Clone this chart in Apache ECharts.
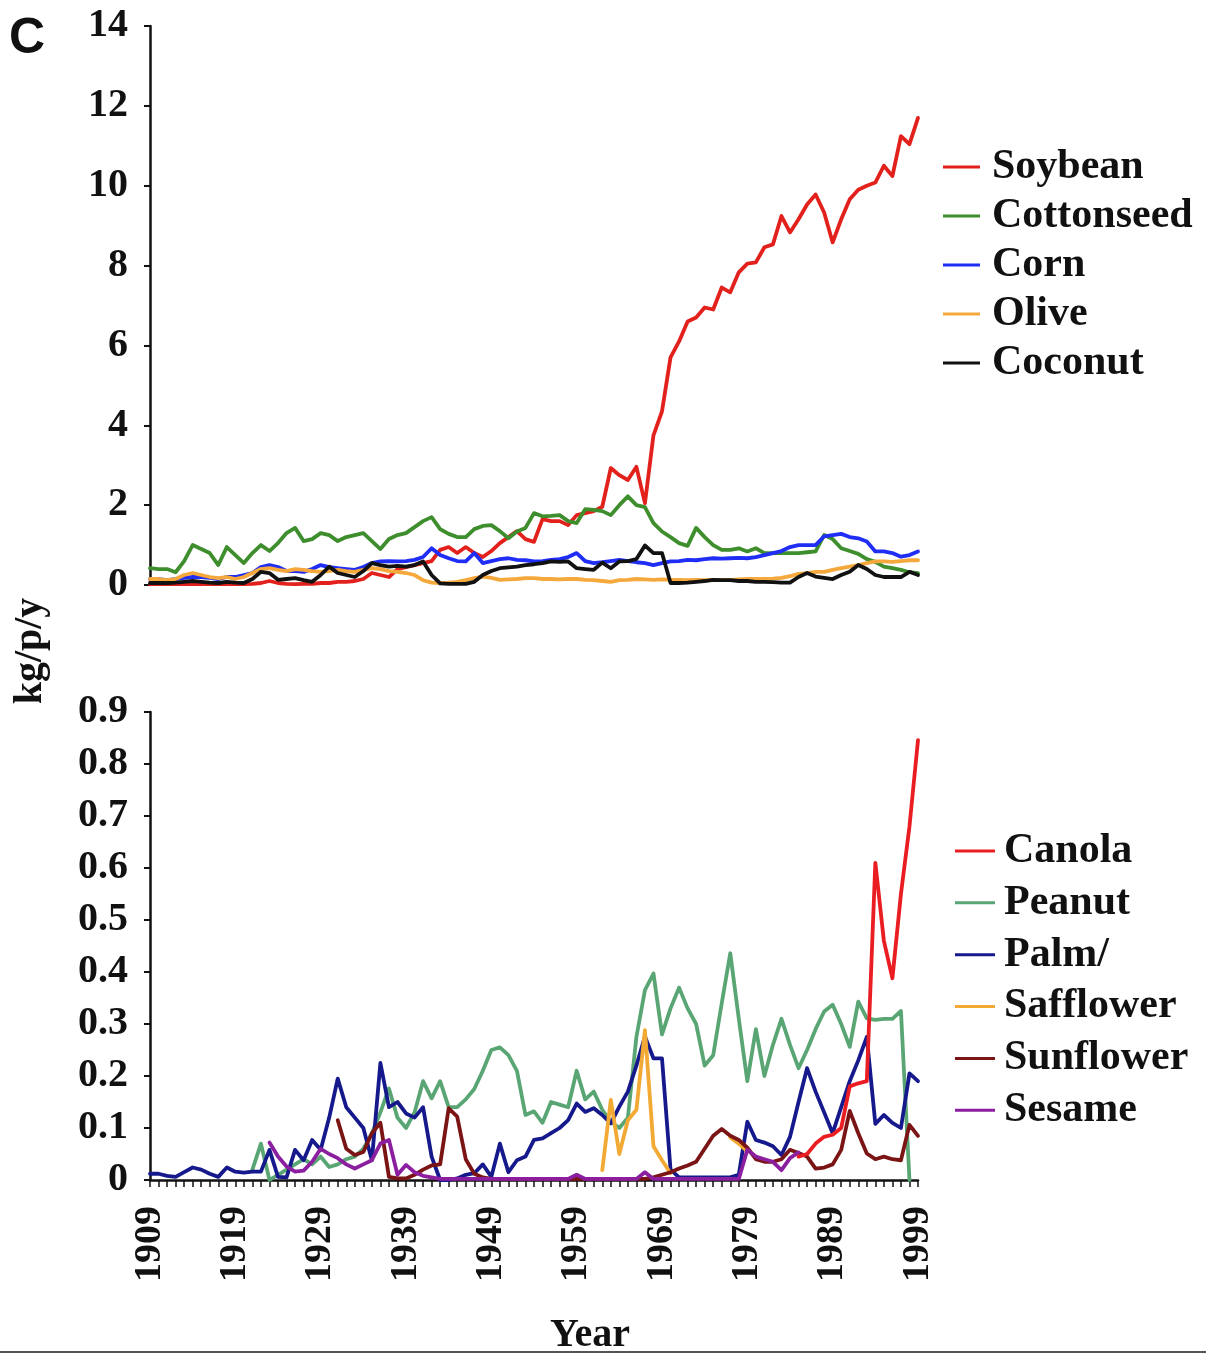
<!DOCTYPE html>
<html>
<head>
<meta charset="utf-8">
<title>Oil consumption per person, 1909-1999</title>
<script src="https://cdn.jsdelivr.net/npm/echarts@6/dist/echarts.min.js"></script>
<style>
  html, body { margin: 0; padding: 0; background: #fff; }
  #chart { width: 1206px; height: 1356px; }
</style>
</head>
<body>
<div id="chart"></div>
<script>
// Years on the shared x axis (1909-1999, one point per year)
const firstYear = 1909;
const lastYear = 1999;
const years = [];
for (let y = firstYear; y <= lastYear; y++) years.push(String(y));

// Upper panel tick labels (kg/p/y)
const topTicks = [0, 2, 4, 6, 8, 10, 12, 14];
// Lower panel tick labels (kg/p/y)
const bottomTicks = [0, 0.1, 0.2, 0.3, 0.4, 0.5, 0.6, 0.7, 0.8, 0.9];

// ---- Upper panel: major oils, 1909-1999 ----
const soybean = [
  0.02,0.02,0.02,0.02,0.02,0.02,0.02,0.03,0.02,0.02,
  0.02,0.02,0.03,0.05,0.1,0.05,0.03,0.02,0.03,0.03,
  0.05,0.05,0.08,0.08,0.1,0.15,0.3,0.25,0.2,0.4,
  0.45,0.5,0.55,0.6,0.88,0.95,0.8,0.95,0.8,0.7,
  0.85,1.05,1.2,1.35,1.15,1.08,1.65,1.6,1.6,1.5,
  1.75,1.8,1.85,1.96,2.93,2.75,2.63,2.96,2.05,3.75,
  4.35,5.7,6.1,6.6,6.7,6.95,6.9,7.45,7.33,7.83,
  8.05,8.08,8.46,8.53,9.24,8.83,9.16,9.53,9.78,9.33,
  8.58,9.16,9.66,9.9,10.0,10.08,10.5,10.24,11.24,11.04,
  11.7
];
const cottonseed = [
  0.42,0.4,0.4,0.32,0.6,1.0,0.9,0.8,0.5,0.95,
  0.75,0.55,0.8,1.0,0.85,1.05,1.3,1.43,1.1,1.15,
  1.3,1.25,1.1,1.2,1.25,1.3,1.1,0.9,1.15,1.25,
  1.3,1.45,1.6,1.7,1.4,1.28,1.2,1.2,1.4,1.48,
  1.5,1.35,1.17,1.34,1.43,1.8,1.72,1.73,1.75,1.6,
  1.55,1.9,1.88,1.85,1.75,2.0,2.22,2.0,1.95,1.55,
  1.34,1.2,1.05,0.98,1.43,1.2,1.0,0.88,0.88,0.92,
  0.84,0.92,0.8,0.8,0.8,0.8,0.8,0.82,0.84,1.25,
  1.15,0.92,0.85,0.78,0.65,0.58,0.46,0.42,0.38,0.32,
  0.3
];
const corn = [
  0.15,0.15,0.12,0.15,0.18,0.2,0.2,0.18,0.15,0.2,
  0.2,0.25,0.3,0.45,0.5,0.45,0.35,0.35,0.33,0.4,
  0.5,0.45,0.42,0.4,0.38,0.45,0.55,0.59,0.6,0.59,
  0.6,0.63,0.7,0.92,0.75,0.67,0.6,0.59,0.8,0.55,
  0.6,0.65,0.67,0.63,0.62,0.59,0.6,0.63,0.65,0.7,
  0.8,0.6,0.55,0.57,0.6,0.63,0.6,0.57,0.55,0.5,
  0.55,0.59,0.6,0.63,0.62,0.65,0.67,0.66,0.67,0.68,
  0.67,0.7,0.75,0.8,0.85,0.95,1.0,1.0,1.0,1.22,
  1.25,1.28,1.2,1.17,1.09,0.84,0.84,0.8,0.71,0.75,
  0.84
];
const olive = [
  0.15,0.15,0.12,0.15,0.25,0.3,0.25,0.2,0.17,0.2,
  0.15,0.2,0.3,0.4,0.42,0.38,0.35,0.4,0.38,0.35,
  0.33,0.35,0.38,0.35,0.33,0.38,0.42,0.4,0.35,0.33,
  0.3,0.25,0.12,0.06,0.05,0.06,0.08,0.12,0.17,0.21,
  0.18,0.13,0.14,0.15,0.17,0.17,0.15,0.15,0.14,0.15,
  0.15,0.13,0.12,0.1,0.08,0.12,0.13,0.15,0.14,0.13,
  0.14,0.13,0.13,0.12,0.13,0.12,0.13,0.13,0.12,0.14,
  0.15,0.15,0.15,0.16,0.18,0.22,0.28,0.3,0.33,0.33,
  0.38,0.42,0.46,0.5,0.55,0.59,0.59,0.58,0.6,0.62,
  0.62
];
const coconut = [
  0.05,0.05,0.05,0.06,0.08,0.1,0.08,0.06,0.05,0.08,
  0.06,0.05,0.15,0.33,0.3,0.13,0.15,0.17,0.12,0.08,
  0.25,0.46,0.3,0.25,0.2,0.35,0.55,0.5,0.46,0.48,
  0.46,0.5,0.59,0.25,0.04,0.03,0.03,0.03,0.08,0.25,
  0.35,0.42,0.44,0.46,0.5,0.52,0.55,0.59,0.58,0.59,
  0.42,0.4,0.38,0.56,0.42,0.59,0.6,0.65,0.99,0.8,
  0.8,0.05,0.05,0.06,0.08,0.1,0.13,0.12,0.12,0.1,
  0.1,0.08,0.08,0.07,0.06,0.06,0.2,0.3,0.21,0.18,
  0.15,0.25,0.33,0.5,0.4,0.25,0.2,0.2,0.2,0.33,
  0.25
];

// ---- Lower panel: minor oils (each series starts at its own year) ----
const canolaFrom = 1985;
const canola = [0.045,0.05,0.07,0.083,0.087,0.1,0.18,0.186,0.19,0.61,0.46,0.388,0.55,0.68,0.846];

const peanutFrom = 1921;
const peanut = [
  0.02,0.07,0.0,0.01,0.02,0.03,0.04,0.03,
  0.045,0.025,0.03,0.04,0.045,0.06,0.09,0.13,0.176,0.12,
  0.1,0.13,0.19,0.157,0.19,0.14,0.14,0.155,0.175,0.21,
  0.25,0.255,0.24,0.21,0.125,0.132,0.11,0.15,0.145,0.14,
  0.21,0.155,0.17,0.135,0.112,0.1,0.12,0.275,0.365,0.397,
  0.28,0.33,0.37,0.33,0.3,0.22,0.24,0.34,0.436,0.31,
  0.19,0.29,0.2,0.26,0.31,0.26,0.215,0.25,0.29,0.324,
  0.337,0.3,0.256,0.343,0.311,0.308,0.31,0.31,0.325,0
];

const palmFrom = 1909;
const palm = [
  0.012,0.012,0.008,0.006,0.015,0.024,0.02,0.012,0.006,0.024,
  0.016,0.014,0.016,0.016,0.058,0.006,0.005,0.058,0.038,0.077,
  0.058,0.12,0.195,0.14,0.12,0.1,0.038,0.225,0.14,0.15,
  0.128,0.12,0.14,0.045,0.0,0.0,0.003,0.01,0.013,0.03,
  0.006,0.07,0.015,0.038,0.045,0.077,0.08,0.09,0.1,0.115,
  0.147,0.131,0.138,0.125,0.109,0.141,0.17,0.22,0.276,0.234,
  0.234,0.02,0.005,0.005,0.005,0.005,0.005,0.005,0.005,0.01,
  0.112,0.077,0.072,0.065,0.048,0.083,0.15,0.215,0.17,0.13,
  0.09,0.14,0.19,0.23,0.275,0.108,0.125,0.11,0.1,0.205,
  0.19
];

const safflowerFrom = 1962;
const safflower = [0.019,0.154,0.05,0.115,0.135,0.288,0.065,0.038,0.013,
  null,null,null,null,null,null,0.082,0.07,0.055];

const sunflowerFrom = 1931;
const sunflower = [
  0.115,0.06,0.048,0.054,0.09,0.11,0.006,0.003,
  0.003,0.01,0.02,0.028,0.03,0.138,0.122,0.04,0.012,0.005,
  0.002,0.002,0.002,0.002,0.002,0.002,0.002,0.002,0.002,0.002,
  0.002,0.002,0.002,0.002,0.002,0.002,0.002,0.002,0.002,0.005,
  0.01,0.015,0.022,0.028,0.035,0.06,0.085,0.098,0.085,0.077,
  0.062,0.04,0.035,0.035,0.04,0.058,0.052,0.045,0.022,0.024,
  0.03,0.058,0.133,0.09,0.051,0.04,0.045,0.04,0.038,0.106,
  0.085
];

const sesameFrom = 1923;
const sesame = [
  0.072,0.045,0.026,0.016,0.018,0.035,
  0.06,0.05,0.042,0.03,0.022,0.03,0.038,0.07,0.077,0.01,
  0.029,0.015,0.008,0.005,0.002,0.002,0.002,0.002,0.002,0.002,
  0.002,0.002,0.002,0.002,0.002,0.002,0.002,0.002,0.002,0.002,
  0.01,0.002,0.002,0.002,0.002,0.002,0.002,0.002,0.015,0.002,
  0.002,0.002,0.002,0.002,0.002,0.002,0.002,0.002,0.002,0.002,
  0.058,0.045,0.04,0.035,0.019,0.042,0.053
];

// Place a series that begins at `from` onto the full year axis
function onYears(from, values) {
  return years.map((y, i) => {
    const k = Number(y) - from;
    return (k >= 0 && k < values.length) ? values[k] : null;
  });
}

const serif = 'Liberation Serif, Times New Roman, serif';
const ink = '#111';

const topSeries = [
  { name: 'Soybean', color: '#e3211c', data: soybean },
  { name: 'Cottonseed', color: '#3e8e2e', data: cottonseed },
  { name: 'Corn', color: '#1f2df5', data: corn },
  { name: 'Olive', color: '#f5a83c', data: olive },
  { name: 'Coconut', color: '#111111', data: coconut }
];
const bottomSeries = [
  { name: 'Canola', color: '#ea1d22', data: onYears(canolaFrom, canola), z: 4 },
  { name: 'Peanut', color: '#5aa574', data: onYears(peanutFrom, peanut) },
  { name: 'Palm/', color: '#15198c', data: onYears(palmFrom, palm) },
  { name: 'Safflower', color: '#f2aa35', data: onYears(safflowerFrom, safflower) },
  { name: 'Sunflower', color: '#7b1414', data: onYears(sunflowerFrom, sunflower) },
  { name: 'Sesame', color: '#8b1fa0', data: onYears(sesameFrom, sesame) }
];

function lineSeries(s, idx) {
  return {
    type: 'line',
    name: s.name,
    xAxisIndex: idx,
    yAxisIndex: idx,
    data: s.data,
    color: s.color,
    symbol: 'none',
    connectNulls: false,
    z: s.z || 2,
    lineStyle: { width: 3.8, color: s.color, join: 'round', cap: 'round' }
  };
}

const labelFont = { fontFamily: serif, fontWeight: 'bold', fontSize: 40, color: ink };

const chart = echarts.init(document.getElementById('chart'), null, { renderer: 'canvas' });
chart.setOption({
  animation: false,
  backgroundColor: '#ffffff',
  grid: [
    { left: 150, top: 26, width: 768, height: 559 },
    { left: 150, top: 712, width: 768, height: 468 }
  ],
  xAxis: [
    {
      type: 'category', gridIndex: 0, data: years, boundaryGap: false,
      axisLine: { show: false }, axisTick: { show: false }, axisLabel: { show: false },
      splitLine: { show: false }
    },
    {
      type: 'category', gridIndex: 1, data: years, boundaryGap: false,
      axisLine: { show: true, onZero: false, lineStyle: { color: ink, width: 2.5 } },
      axisTick: { show: true, interval: 0, length: 7, lineStyle: { color: ink, width: 1.5 } },
      axisLabel: Object.assign({ interval: 9, rotate: 90, margin: 26 }, labelFont, { fontSize: 38 }),
      splitLine: { show: false }
    }
  ],
  yAxis: [
    {
      type: 'value', gridIndex: 0, min: topTicks[0], max: topTicks[topTicks.length - 1], interval: 2,
      axisLine: { show: true, lineStyle: { color: ink, width: 2.5 } },
      axisTick: { show: true, length: 6, lineStyle: { color: ink, width: 2 } },
      axisLabel: Object.assign({ margin: 22 }, labelFont),
      splitLine: { show: false }
    },
    {
      type: 'value', gridIndex: 1, min: bottomTicks[0], max: bottomTicks[bottomTicks.length - 1], interval: 0.1,
      axisLine: { show: true, lineStyle: { color: ink, width: 2.5 } },
      axisTick: { show: true, length: 6, lineStyle: { color: ink, width: 2 } },
      axisLabel: Object.assign({
        margin: 22,
        formatter: v => (Math.abs(v) < 1e-9 ? '0' : v.toFixed(1))
      }, labelFont),
      splitLine: { show: false }
    }
  ],
  legend: [
    {
      orient: 'vertical', left: 938, top: 141,
      data: topSeries.map(s => s.name),
      icon: 'rect', itemWidth: 37, itemHeight: 3, itemGap: 7,
      selectedMode: false,
      textStyle: { fontFamily: serif, fontWeight: 'bold', fontSize: 42, color: ink, lineHeight: 36, padding: [0, 0, 0, 7] }
    },
    {
      orient: 'vertical', left: 950, top: 825,
      data: bottomSeries.map(s => s.name),
      icon: 'rect', itemWidth: 40, itemHeight: 3, itemGap: 9.85,
      selectedMode: false,
      textStyle: { fontFamily: serif, fontWeight: 'bold', fontSize: 42, color: ink, lineHeight: 36, padding: [0, 0, 0, 4] }
    }
  ],
  series: topSeries.map(s => lineSeries(s, 0)).concat(bottomSeries.map(s => lineSeries(s, 1))),
  graphic: [
    {
      type: 'text', left: 9, top: 14,
      style: { text: 'C', font: 'bold 50px "Liberation Sans", Arial, sans-serif', fill: ink }
    },
    {
      type: 'text', x: 31, y: 651, rotation: Math.PI / 2,
      style: {
        text: 'kg/p/y', font: 'bold 40px "Liberation Serif", "Times New Roman", serif', fill: ink,
        align: 'center', verticalAlign: 'middle'
      }
    },
    {
      type: 'text', x: 590, y: 1336,
      style: {
        text: 'Year', font: 'bold 40px "Liberation Serif", "Times New Roman", serif', fill: ink,
        align: 'center', verticalAlign: 'middle'
      }
    },
    {
      type: 'line',
      shape: { x1: 0, y1: 1352, x2: 1206, y2: 1352 },
      style: { stroke: '#555', lineWidth: 2 }
    }
  ]
});
</script>
</body>
</html>
